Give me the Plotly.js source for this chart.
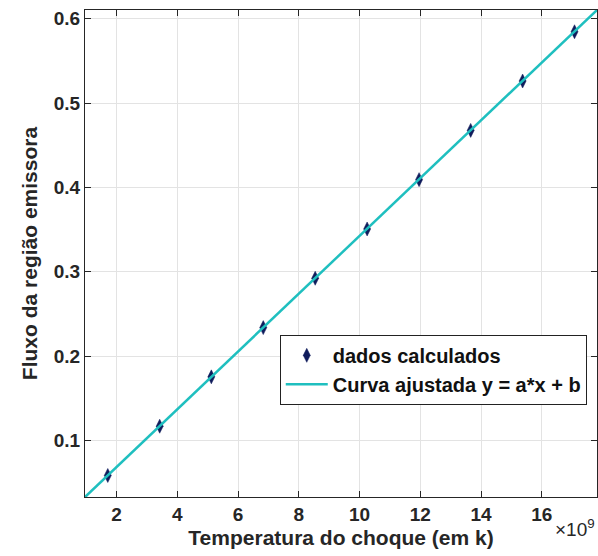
<!DOCTYPE html>
<html>
<head>
<meta charset="utf-8">
<script src="https://cdn.plot.ly/plotly-3.0.1.min.js"></script>
<style>html,body{margin:0;padding:0;background:#fff;}#chart{width:598px;height:556px;}</style>
</head>
<body>
<div id="chart"></div>
<script>
// Temperature in units of 1e9 K
const tempX = [1.71, 3.42, 5.12, 6.83, 8.54, 10.25, 11.96, 13.66, 15.37, 17.08];
const fluxY = [0.0585, 0.1169, 0.1754, 0.2338, 0.2923, 0.3507, 0.4092, 0.4676, 0.5261, 0.5845];
const fitX = [0.96, 17.82];
const fitY = [0.0329, 0.6103];
const xTicks = [2, 4, 6, 8, 10, 12, 14, 16];
const yTicks = [0.1, 0.2, 0.3, 0.4, 0.5, 0.6];

const FONT = 'Liberation Sans, Arial, sans-serif';
const dark = '#262626';

const traces = [
  {x: tempX, y: fluxY, mode: 'markers', type: 'scatter', name: '<b>dados calculados</b>',
   marker: {symbol: 'diamond-tall', size: 10, color: '#101c5c', line: {width: 0.5, color: '#101c5c'}}},
  {x: fitX, y: fitY, mode: 'lines', type: 'scatter', name: '<b>Curva ajustada y = a*x + b</b>',
   line: {color: '#1fbfbf', width: 2.5}}
];

const axisCommon = {
  showline: true, linecolor: dark, linewidth: 1, mirror: 'ticks',
  ticks: 'inside', ticklen: 6, tickcolor: dark, tickwidth: 1,
  showgrid: true, gridcolor: '#e3e3e3', gridwidth: 1, zeroline: false,
  tickfont: {family: FONT, size: 19, color: dark}
};

const layout = {
  width: 598, height: 556,
  margin: {l: 85, r: 1, t: 10, b: 59},
  paper_bgcolor: '#fff', plot_bgcolor: '#fff',
  showlegend: true,
  xaxis: Object.assign({}, axisCommon, {
    range: [0.96, 17.82], tickvals: xTicks, ticktext: xTicks.map(v => '<b>' + v + '</b>'),
    title: {text: '<b>Temperatura do choque (em k)</b>', font: {family: FONT, size: 21, color: dark}, standoff: 6}
  }),
  yaxis: Object.assign({}, axisCommon, {
    range: [0.033, 0.6103], tickvals: yTicks, ticktext: yTicks.map(v => '<b>' + v + '</b>'),
    title: {text: '<b>Fluxo da região emissora</b>', font: {family: FONT, size: 21, color: dark}, standoff: 10}
  }),
  legend: {
    x: 0.98, y: 0.333, xanchor: 'right', yanchor: 'top',
    bgcolor: '#fff', bordercolor: '#222', borderwidth: 1,
    font: {family: FONT, size: 20, color: '#111'},
    itemwidth: 42, tracegroupgap: 6
  },
  annotations: [{
    xref: 'paper', yref: 'paper', x: 1.0, y: -0.035, xanchor: 'right', yanchor: 'top',
    text: '×10<sup>9</sup>', showarrow: false,
    font: {family: FONT, size: 19, color: dark}
  }]
};

Plotly.newPlot('chart', traces, layout, {displayModeBar: false, staticPlot: true});
</script>
</body>
</html>
